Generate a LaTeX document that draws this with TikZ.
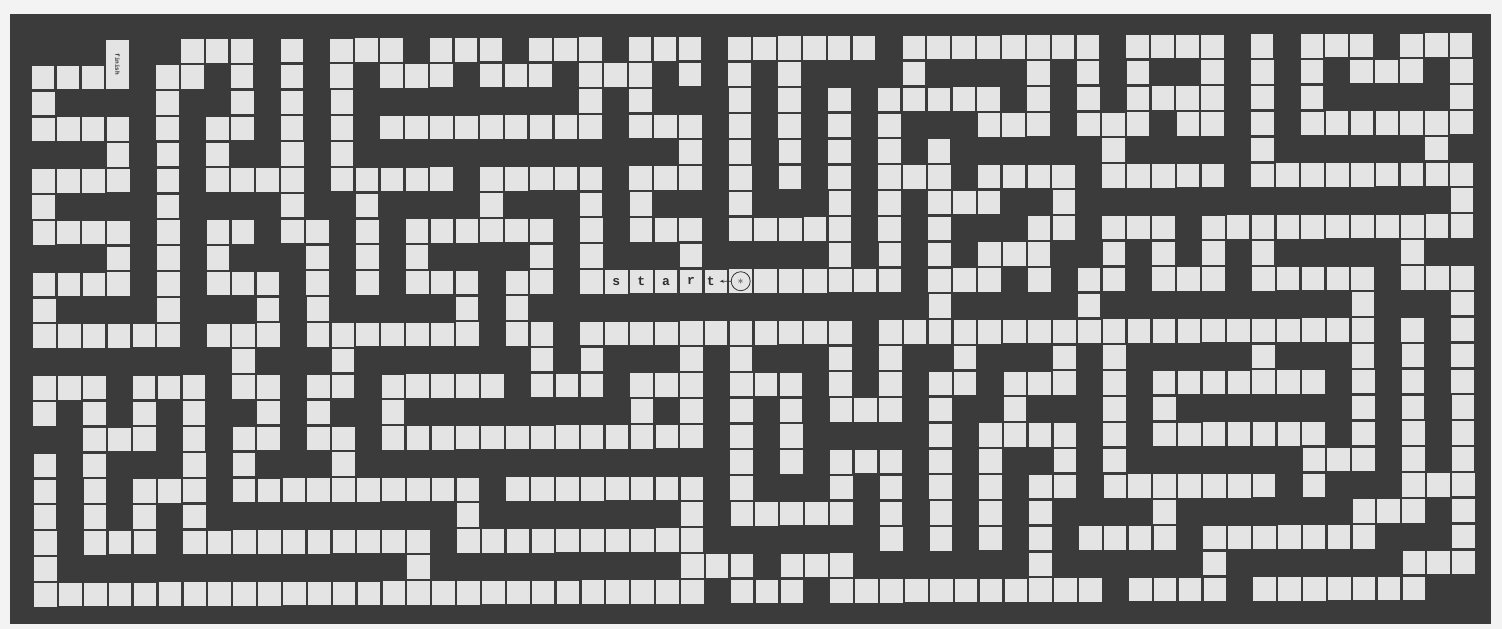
\documentclass[tikz,border=0pt]{standalone}
\usepackage{fontspec}
\setmonofont{Liberation Mono}
\usepackage{xcolor}
\definecolor{board}{HTML}{3B3B3B}
\definecolor{pathc}{HTML}{E4E4E4}
\definecolor{paper}{HTML}{F3F3F3}
\definecolor{ink}{HTML}{2F2F2F}
\usepackage{tikz}
\usetikzlibrary{arrows.meta}

\begin{document}
\begin{tikzpicture}[
  x=1pt,y=-1pt,
  cell/.style={fill=pathc},
  letter/.style={font=\ttfamily\bfseries\fontsize{13}{13}\selectfont,text=ink,inner sep=0pt},
  startdot/.style={circle,draw=ink,line width=0.8pt,fill=pathc,minimum size=19pt,inner sep=0pt,font=\bfseries\fontsize{12}{12}\selectfont,text=ink},
  ptr/.style={-{Stealth[length=4pt]},ink,line width=0.8pt},
]
\useasboundingbox (0,0) rectangle (1502,629);
\fill[paper] (0,0) rectangle (1502,629);
\fill[board] (10,14) rectangle (1491,624);

% maze cells: row / runs of columns
\foreach \r/\runs in {
  0/{6/8,10/10,12/14,16/18,20/22,24/26,28/33,35/42,44/47,49/49,51/53,55/57},
  1/{0/2,5/6,8/8,10/10,12/12,14/16,18/20,22/24,26/26,28/28,30/30,35/35,40/40,42/42,44/44,47/47,49/49,51/51,53/55,57/57},
  2/{0/0,5/5,8/8,10/10,12/12,22/22,24/24,28/28,30/30,32/32,34/38,40/40,42/42,44/47,49/49,51/51,57/57},
  3/{0/3,5/5,7/8,10/10,12/12,14/22,24/26,28/28,30/30,32/32,34/34,38/40,42/44,46/47,49/49,51/57},
  4/{3/3,5/5,7/7,10/10,12/12,26/26,28/28,30/30,32/32,34/34,36/36,43/43,49/49,56/56},
  5/{0/3,5/5,7/10,12/16,18/22,24/26,28/28,30/30,32/32,34/36,38/41,43/47,49/57},
  6/{0/0,5/5,10/10,13/13,18/18,22/22,24/24,28/28,32/32,34/34,36/38,41/41,57/57},
  7/{0/3,5/5,7/8,10/11,13/13,15/20,22/22,24/26,28/32,34/34,36/36,40/41,43/45,47/57},
  8/{3/3,5/5,7/7,11/11,13/13,15/15,20/20,22/22,26/26,32/32,34/34,36/36,38/40,43/43,45/45,47/47,49/49,55/55},
  9/{0/3,5/5,7/9,11/11,13/13,15/17,19/20,22/34,36/38,40/40,42/43,45/47,49/53,55/57},
  10/{0/0,5/5,9/9,11/11,17/17,19/19,36/36,42/42,53/53,57/57},
  11/{0/5,7/9,11/17,19/20,22/32,34/53,55/55,57/57},
  12/{8/8,12/12,20/20,22/22,26/26,28/28,32/32,34/34,37/37,41/41,43/43,49/49,53/53,55/55,57/57},
  13/{0/2,4/6,8/9,11/12,14/18,20/22,24/26,28/30,32/32,34/34,36/37,39/41,43/43,45/51,53/53,55/55,57/57},
  14/{0/0,2/2,4/4,6/6,9/9,11/11,14/14,24/24,26/26,28/28,30/30,32/34,36/36,39/39,43/43,45/45,53/53,55/55,57/57},
  15/{2/4,6/6,8/9,11/12,14/26,28/28,30/30,36/36,38/41,43/43,45/51,53/53,55/55,57/57},
  16/{0/0,2/2,6/6,8/8,12/12,28/28,30/30,32/34,36/36,38/38,41/41,43/43,51/53,55/55,57/57},
  17/{0/0,2/2,4/6,8/17,19/26,28/28,32/32,34/34,36/36,38/38,40/41,43/49,51/51,55/57},
  18/{0/0,2/2,4/4,6/6,17/17,26/26,28/32,34/34,36/36,38/38,40/40,45/45,53/55,57/57},
  19/{0/0,2/4,6/15,17/26,34/34,36/36,38/38,40/40,42/45,47/53,57/57},
  20/{0/0,15/15,26/28,30/32,40/40,47/47,55/57},
  21/{0/26,28/30,32/42,44/47,49/55}%
}{
  \foreach \a/\b in \runs {
    \foreach \c in {\a,...,\b} {
      \fill[cell] ({31.7+24.88*\c+0.12*\r},{40+25.86*\r-0.117*\c}) rectangle ++(22.6,23.5);
    }
  }
}

% finish box
\fill[cell] (106.34,39.65) rectangle ++(22.6,49.4);
\node[font=\ttfamily\bfseries\fontsize{6}{6}\selectfont,text=ink,rotate=-90] (finish) at (117.64,64.35) {finish};

% start label
\foreach \c/\t/\dx in {23/s/0,24/t/0,25/a/0,26/r/0,27/t/-5}
  \node[letter] (ltr\c) at ({44.08+24.88*\c+\dx},{284.49-0.117*\c}) {\t};
\node[startdot] (startmark) at (740.72,281.21) {$\ast$};
\coordinate (ptrend) at (719.8,281.3);
\draw[ptr] (startmark.west) -- (ptrend);
\end{tikzpicture}
\end{document}
